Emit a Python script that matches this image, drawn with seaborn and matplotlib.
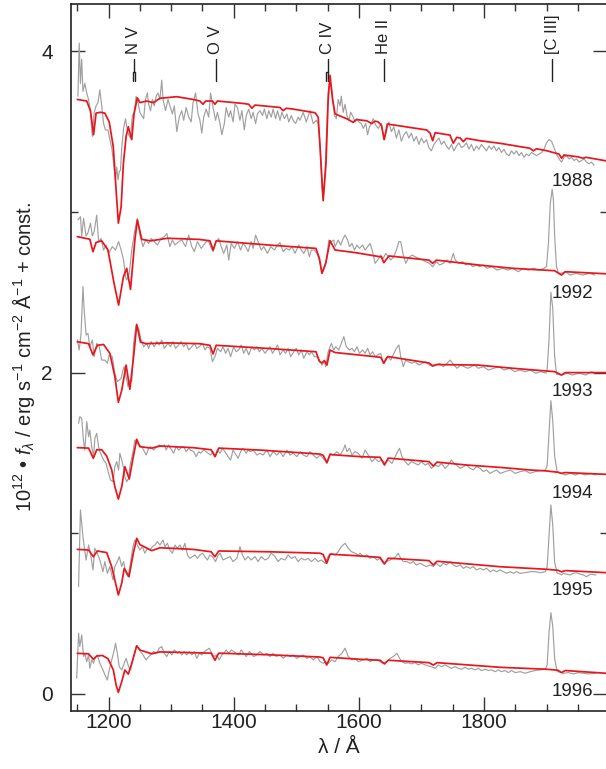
import matplotlib
matplotlib.use("Agg")
import matplotlib.pyplot as plt
import seaborn as sns
import pandas as pd
from matplotlib.ticker import MultipleLocator

sns.set_theme(style="ticks")
plt.rcParams['font.family'] = ['Liberation Sans', 'DejaVu Sans']
plt.rcParams['mathtext.fontset'] = 'custom'
plt.rcParams['mathtext.rm'] = 'Liberation Sans'
plt.rcParams['mathtext.it'] = 'Liberation Sans:italic'

years = ['1988', '1992', '1993', '1994', '1995', '1996']
year_label_y = [3.19, 2.49, 1.88, 1.25, 0.643, 0.014]

ions = ['N V', 'O V', 'C IV', 'He II', '[C III]']
ion_waves = [1240, 1371, 1550, 1640, 1909]
doublets = {'N V': (1238.8, 1242.8), 'C IV': (1548.2, 1550.8)}

# ---- observed spectra (grey) ----
obs_w_1988 = [1151,1153,1155,1157,1159,1162,1165,1168,1171,1174,1177,1180,1183,1186,1189,1192,1195,1199,1202,1205,1208,1211,1213,1215,1217,1219,1221,1224,1227,1229,1232,1235,1238,1241,1244,1247,1250,1253,1256,1259,1262,1264,1267,1270,1273,1276,1279,1282,1285,1287,1291,1295,1298,1302,1305,1309,1313,1317,1320,1324,1328,1332,1335,1339,1343,1346,1349,1352,1356,1360,1363,1367,1371,1374,1378,1381,1385,1388,1392,1395,1399,1402,1406,1410,1413,1417,1420,1424,1428,1431,1435,1438,1442,1446,1449,1453,1456,1460,1463,1467,1470,1474,1477,1481,1485,1488,1492,1495,1499,1503,1506,1511,1516,1522,1527,1532,1535,1538,1541,1543,1546,1549,1551,1553,1556,1559,1561,1564,1567,1570,1572,1575,1578,1581,1584,1587,1591,1594,1597,1600,1604,1607,1611,1614,1617,1620,1623,1627,1631,1636,1640,1644,1648,1652,1656,1660,1664,1668,1672,1676,1680,1684,1688,1692,1696,1700,1704,1708,1712,1716,1720,1724,1728,1732,1736,1740,1744,1748,1752,1756,1760,1764,1768,1772,1776,1780,1784,1788,1792,1796,1800,1804,1808,1812,1816,1820,1824,1828,1832,1836,1840,1844,1848,1852,1856,1860,1864,1868,1872,1876,1880,1884,1888,1892,1896,1900,1904,1908,1912,1916,1920,1924,1928,1932,1936,1940,1944,1948,1952,1956,1960,1964,1968,1972,1976]
obs_f_1988 = [3.72,4.05,3.80,3.95,3.75,3.80,3.74,3.70,3.62,3.47,3.62,3.66,3.68,3.76,3.66,3.55,3.51,3.51,3.45,3.40,3.30,3.20,3.28,3.20,3.25,3.26,3.40,3.52,3.58,3.53,3.48,3.46,3.60,3.62,3.72,3.68,3.62,3.60,3.58,3.70,3.74,3.67,3.63,3.70,3.66,3.72,3.74,3.70,3.82,3.70,3.63,3.70,3.66,3.61,3.66,3.50,3.59,3.63,3.57,3.65,3.59,3.56,3.68,3.74,3.61,3.57,3.49,3.59,3.64,3.59,3.74,3.65,3.57,3.62,3.55,3.48,3.55,3.65,3.59,3.63,3.56,3.67,3.65,3.57,3.63,3.51,3.60,3.64,3.58,3.62,3.55,3.61,3.63,3.60,3.64,3.58,3.63,3.59,3.64,3.58,3.63,3.57,3.62,3.58,3.61,3.56,3.60,3.57,3.55,3.59,3.57,3.62,3.56,3.63,3.55,3.57,3.55,3.42,3.15,3.08,3.25,3.55,3.75,3.80,3.78,3.68,3.60,3.58,3.70,3.66,3.72,3.62,3.67,3.60,3.57,3.62,3.59,3.56,3.58,3.56,3.55,3.52,3.55,3.48,3.53,3.55,3.58,3.54,3.52,3.55,3.45,3.50,3.56,3.50,3.53,3.46,3.51,3.44,3.48,3.50,3.46,3.49,3.44,3.47,3.42,3.46,3.43,3.45,3.40,3.38,3.42,3.44,3.46,3.42,3.44,3.41,3.39,3.42,3.38,3.41,3.43,3.40,3.41,3.43,3.39,3.42,3.38,3.41,3.39,3.42,3.40,3.38,3.41,3.39,3.41,3.38,3.40,3.37,3.39,3.36,3.35,3.38,3.36,3.38,3.35,3.37,3.34,3.36,3.35,3.37,3.36,3.35,3.36,3.37,3.39,3.43,3.45,3.44,3.40,3.36,3.33,3.31,3.34,3.35,3.33,3.34,3.32,3.33,3.31,3.32,3.33,3.31,3.30,3.31,3.29]

obs_w_1992 = [1151,1155,1157,1160,1164,1167,1171,1174,1177,1181,1184,1188,1192,1196,1200,1206,1211,1216,1220,1224,1227,1229,1233,1237,1242,1246,1250,1255,1259,1264,1268,1273,1278,1284,1289,1293,1298,1302,1306,1312,1317,1323,1328,1333,1337,1342,1348,1354,1359,1363,1367,1372,1376,1380,1384,1389,1392,1396,1401,1406,1411,1415,1419,1423,1428,1431,1435,1440,1444,1448,1454,1459,1465,1470,1474,1479,1484,1489,1493,1498,1504,1508,1512,1517,1521,1524,1529,1533,1537,1541,1545,1548,1552,1556,1560,1562,1567,1571,1575,1578,1582,1585,1589,1593,1597,1601,1606,1610,1614,1618,1622,1626,1630,1635,1639,1643,1647,1651,1656,1660,1664,1667,1671,1675,1679,1685,1690,1696,1702,1707,1713,1718,1724,1729,1735,1741,1746,1751,1754,1760,1766,1771,1777,1782,1788,1793,1799,1805,1813,1821,1830,1838,1846,1855,1863,1871,1880,1888,1896,1900,1903,1906,1909,1911,1913,1916,1919,1924,1930,1938,1947,1958,1969,1977]
obs_f_1992 = [2.95,2.97,2.85,2.96,2.85,2.87,2.93,2.85,2.88,2.98,2.815,2.835,2.763,2.794,2.742,2.784,2.763,2.815,2.763,2.70,2.597,2.576,2.618,2.763,2.887,2.96,2.856,2.784,2.825,2.804,2.835,2.815,2.794,2.835,2.846,2.866,2.784,2.825,2.794,2.815,2.825,2.784,2.856,2.784,2.753,2.815,2.773,2.804,2.825,2.784,2.753,2.815,2.835,2.784,2.742,2.794,2.70,2.804,2.773,2.815,2.763,2.804,2.784,2.753,2.815,2.773,2.856,2.804,2.763,2.784,2.742,2.784,2.763,2.794,2.809,2.753,2.773,2.763,2.784,2.742,2.794,2.763,2.742,2.784,2.721,2.763,2.763,2.742,2.701,2.618,2.649,2.69,2.825,2.815,2.825,2.784,2.825,2.794,2.835,2.856,2.825,2.784,2.804,2.763,2.794,2.773,2.794,2.763,2.784,2.804,2.753,2.68,2.701,2.732,2.711,2.742,2.721,2.701,2.721,2.763,2.815,2.815,2.732,2.68,2.711,2.732,2.721,2.711,2.701,2.69,2.68,2.659,2.69,2.67,2.68,2.701,2.68,2.742,2.701,2.68,2.69,2.67,2.68,2.659,2.67,2.659,2.67,2.649,2.659,2.638,2.649,2.638,2.649,2.628,2.649,2.638,2.649,2.638,2.649,2.66,2.80,3.05,3.14,3.08,2.85,2.66,2.62,2.618,2.628,2.607,2.618,2.607,2.618,2.607]

obs_w_1993 = [1150,1153,1156,1159,1161,1164,1167,1170,1174,1177,1181,1185,1189,1194,1198,1201,1206,1210,1214,1217,1220,1223,1225,1228,1231,1234,1237,1240,1244,1248,1252,1256,1261,1264,1268,1273,1277,1281,1285,1289,1295,1299,1303,1307,1312,1316,1320,1324,1328,1333,1337,1341,1345,1350,1354,1357,1362,1366,1370,1374,1379,1383,1387,1391,1395,1400,1404,1408,1412,1416,1420,1424,1429,1433,1437,1441,1445,1450,1454,1458,1462,1467,1470,1474,1479,1483,1487,1491,1496,1500,1504,1508,1512,1517,1521,1524,1529,1533,1537,1541,1545,1547,1551,1556,1560,1563,1568,1572,1576,1580,1585,1589,1593,1597,1601,1606,1610,1614,1618,1622,1626,1630,1635,1639,1643,1647,1651,1656,1660,1664,1667,1671,1675,1679,1685,1690,1696,1702,1707,1713,1718,1724,1729,1735,1741,1746,1752,1757,1763,1768,1774,1780,1785,1791,1799,1807,1816,1824,1832,1841,1849,1857,1866,1874,1883,1891,1899,1901,1904,1907,1910,1913,1916,1924,1933,1941,1952,1963,1972,1977]
obs_f_1993 = [2.203,2.141,2.244,2.535,2.39,2.234,2.244,2.161,2.203,2.099,2.182,2.161,2.078,2.078,2.058,2.11,2.099,1.996,1.944,1.954,1.964,2.016,2.037,1.975,1.913,1.954,1.944,2.182,2.296,2.275,2.203,2.161,2.182,2.151,2.193,2.161,2.193,2.172,2.203,2.151,2.182,2.161,2.193,2.151,2.172,2.193,2.161,2.182,2.141,2.161,2.182,2.151,2.161,2.182,2.141,2.161,2.151,2.068,2.099,2.151,2.13,2.161,2.12,2.151,2.099,2.161,2.13,2.141,2.172,2.12,2.151,2.11,2.161,2.141,2.161,2.13,2.151,2.12,2.141,2.161,2.12,2.151,2.172,2.11,2.141,2.12,2.151,2.099,2.13,2.151,2.11,2.141,2.089,2.13,2.11,2.13,2.099,2.099,2.078,2.047,2.068,2.037,2.13,2.182,2.141,2.161,2.141,2.182,2.224,2.161,2.141,2.151,2.13,2.161,2.12,2.141,2.12,2.151,2.11,2.13,2.099,2.11,2.12,2.058,2.089,2.099,2.078,2.12,2.151,2.172,2.099,2.037,2.078,2.068,2.058,2.068,2.047,2.058,2.068,2.047,2.037,2.047,2.058,2.037,2.058,2.078,2.047,2.027,2.047,2.037,2.027,2.037,2.047,2.027,2.037,2.016,2.027,2.037,2.016,2.027,2.006,2.016,2.006,2.016,1.996,2.006,1.996,2.02,2.2,2.50,2.40,2.1,1.99,1.985,1.996,1.985,1.996,1.985,2.006,1.996]

obs_w_1994 = [1152,1154,1157,1160,1162,1165,1168,1170,1173,1176,1178,1181,1184,1186,1192,1196,1200,1203,1207,1210,1213,1216,1218,1221,1224,1226,1229,1232,1234,1239,1242,1245,1249,1253,1256,1260,1264,1267,1272,1277,1281,1285,1289,1292,1296,1299,1304,1308,1312,1315,1320,1324,1328,1331,1336,1340,1344,1347,1352,1356,1359,1363,1367,1371,1374,1378,1382,1386,1391,1395,1399,1404,1407,1411,1415,1420,1423,1427,1431,1437,1442,1447,1453,1458,1463,1469,1474,1479,1485,1490,1495,1501,1506,1511,1517,1522,1527,1533,1538,1543,1549,1554,1559,1565,1570,1575,1578,1581,1585,1589,1594,1599,1605,1610,1615,1621,1626,1631,1637,1642,1647,1653,1658,1662,1665,1669,1674,1679,1684,1690,1695,1700,1706,1711,1716,1722,1727,1732,1738,1743,1748,1752,1756,1762,1767,1772,1778,1783,1788,1794,1799,1804,1810,1815,1820,1826,1834,1842,1850,1858,1866,1874,1882,1890,1898,1901,1904,1907,1910,1913,1917,1924,1930,1938,1946,1954,1962,1970,1979]
obs_f_1994 = [1.684,1.726,1.715,1.570,1.518,1.695,1.601,1.643,1.539,1.477,1.591,1.622,1.539,1.508,1.456,1.435,1.373,1.332,1.321,1.415,1.446,1.394,1.498,1.456,1.404,1.353,1.321,1.342,1.415,1.508,1.581,1.560,1.550,1.539,1.518,1.487,1.529,1.539,1.518,1.539,1.550,1.539,1.550,1.518,1.550,1.529,1.498,1.539,1.518,1.529,1.539,1.508,1.529,1.518,1.508,1.477,1.508,1.498,1.518,1.508,1.498,1.487,1.508,1.477,1.518,1.498,1.529,1.508,1.477,1.456,1.518,1.487,1.467,1.508,1.529,1.498,1.518,1.508,1.518,1.487,1.498,1.487,1.518,1.477,1.508,1.487,1.508,1.477,1.518,1.487,1.498,1.477,1.508,1.487,1.477,1.508,1.487,1.467,1.487,1.467,1.435,1.498,1.487,1.508,1.487,1.518,1.550,1.508,1.529,1.487,1.508,1.498,1.467,1.518,1.487,1.446,1.467,1.446,1.456,1.435,1.456,1.435,1.477,1.508,1.529,1.477,1.446,1.425,1.446,1.435,1.425,1.446,1.425,1.435,1.404,1.425,1.415,1.435,1.404,1.425,1.456,1.435,1.425,1.404,1.415,1.425,1.404,1.394,1.415,1.404,1.384,1.394,1.373,1.384,1.394,1.373,1.384,1.394,1.373,1.384,1.39,1.373,1.384,1.39,1.394,1.42,1.62,1.825,1.70,1.48,1.384,1.373,1.363,1.373,1.363,1.373,1.363,1.373,1.363]

obs_w_1995 = [1152,1155,1159,1161,1164,1168,1171,1175,1178,1182,1186,1191,1194,1198,1202,1207,1210,1214,1217,1221,1224,1227,1231,1234,1239,1242,1246,1250,1254,1258,1262,1266,1270,1274,1278,1282,1287,1290,1294,1298,1302,1306,1310,1314,1318,1322,1326,1330,1334,1338,1342,1346,1350,1354,1358,1362,1366,1371,1374,1378,1383,1388,1394,1399,1405,1410,1414,1418,1423,1428,1434,1439,1444,1450,1455,1460,1466,1471,1476,1482,1487,1492,1498,1503,1508,1514,1519,1524,1530,1535,1540,1546,1551,1556,1562,1567,1572,1578,1583,1588,1594,1599,1602,1607,1613,1618,1623,1629,1634,1639,1644,1650,1655,1659,1663,1667,1671,1677,1682,1687,1692,1698,1703,1708,1714,1719,1724,1730,1735,1740,1746,1751,1756,1762,1767,1772,1778,1783,1788,1794,1799,1804,1810,1815,1820,1826,1831,1836,1842,1847,1852,1858,1866,1874,1882,1890,1898,1901,1904,1907,1910,1913,1917,1919,1924,1927,1932,1938,1943,1948,1954,1959,1964,1970,1979]
obs_f_1995 = [0.668,1.145,0.979,0.917,0.834,0.927,0.876,0.772,0.907,0.876,0.834,0.761,0.824,0.751,0.793,0.710,0.793,0.824,0.855,0.793,0.824,0.761,0.730,0.793,0.917,0.958,0.927,0.896,0.917,0.876,0.907,0.896,0.917,0.927,0.948,0.927,0.958,0.917,0.938,0.896,0.876,0.927,0.907,0.927,0.896,0.938,0.865,0.844,0.855,0.865,0.844,0.865,0.876,0.855,0.834,0.865,0.855,0.824,0.855,0.876,0.834,0.844,0.855,0.824,0.844,0.917,0.865,0.834,0.855,0.834,0.855,0.824,0.855,0.834,0.844,0.876,0.855,0.824,0.844,0.834,0.865,0.844,0.855,0.824,0.844,0.834,0.844,0.824,0.844,0.824,0.834,0.813,0.855,0.876,0.865,0.886,0.917,0.938,0.907,0.886,0.876,0.865,0.876,0.855,0.865,0.844,0.855,0.834,0.844,0.813,0.824,0.834,0.844,0.855,0.876,0.844,0.824,0.824,0.813,0.824,0.803,0.813,0.803,0.793,0.803,0.793,0.813,0.793,0.813,0.803,0.824,0.803,0.793,0.803,0.782,0.793,0.782,0.793,0.772,0.782,0.772,0.782,0.761,0.772,0.761,0.772,0.761,0.751,0.761,0.751,0.761,0.751,0.755,0.761,0.761,0.755,0.761,0.79,0.98,1.176,1.05,0.82,0.751,0.751,0.741,0.751,0.745,0.741,0.751,0.755,0.745,0.741,0.730,0.745,0.741]

obs_w_1996 = [1149,1152,1154,1157,1160,1162,1165,1168,1170,1173,1176,1178,1182,1186,1191,1194,1198,1201,1205,1209,1211,1214,1217,1221,1225,1228,1232,1235,1240,1244,1248,1251,1255,1260,1264,1267,1272,1277,1281,1285,1289,1293,1297,1301,1305,1310,1313,1317,1321,1325,1329,1333,1337,1341,1345,1349,1353,1357,1361,1365,1369,1373,1377,1381,1384,1388,1392,1396,1400,1404,1408,1412,1416,1420,1425,1428,1432,1437,1442,1448,1453,1458,1463,1468,1474,1479,1485,1490,1495,1501,1506,1511,1517,1522,1527,1533,1538,1543,1547,1551,1557,1562,1567,1573,1578,1583,1589,1594,1599,1607,1613,1618,1623,1629,1634,1639,1645,1650,1655,1661,1665,1669,1674,1679,1684,1690,1695,1700,1706,1711,1716,1722,1727,1732,1738,1743,1748,1754,1759,1764,1770,1775,1780,1786,1791,1796,1802,1807,1812,1818,1823,1828,1834,1839,1844,1850,1858,1866,1874,1882,1890,1898,1901,1904,1907,1910,1913,1917,1919,1927,1935,1943,1951,1959,1967,1979]
obs_f_1996 = [0.098,0.378,0.295,0.367,0.233,0.253,0.201,0.243,0.160,0.212,0.191,0.222,0.243,0.191,0.150,0.119,0.087,0.150,0.212,0.274,0.316,0.253,0.170,0.150,0.191,0.222,0.170,0.150,0.233,0.295,0.285,0.264,0.243,0.212,0.233,0.243,0.264,0.253,0.285,0.295,0.253,0.233,0.264,0.243,0.274,0.253,0.264,0.243,0.264,0.243,0.264,0.243,0.264,0.222,0.253,0.243,0.264,0.274,0.285,0.253,0.233,0.243,0.212,0.243,0.253,0.274,0.253,0.274,0.264,0.253,0.243,0.274,0.253,0.233,0.264,0.253,0.233,0.243,0.264,0.243,0.253,0.233,0.253,0.233,0.243,0.222,0.243,0.233,0.243,0.222,0.233,0.243,0.222,0.233,0.212,0.233,0.201,0.191,0.201,0.191,0.212,0.201,0.233,0.253,0.285,0.233,0.212,0.222,0.201,0.212,0.222,0.201,0.212,0.212,0.201,0.191,0.201,0.222,0.233,0.253,0.222,0.201,0.191,0.195,0.187,0.195,0.181,0.191,0.181,0.175,0.170,0.160,0.181,0.170,0.181,0.170,0.160,0.170,0.160,0.154,0.166,0.154,0.160,0.150,0.160,0.146,0.154,0.146,0.150,0.139,0.150,0.139,0.146,0.133,0.146,0.133,0.139,0.129,0.139,0.146,0.150,0.154,0.18,0.38,0.506,0.42,0.22,0.139,0.139,0.129,0.133,0.125,0.133,0.129,0.125,0.129]

# ---- model spectra (red) ----
mod_w_1988 = [1150,1165,1171,1176,1180,1187,1194,1201,1207.5,1212,1215.6,1220,1223.6,1228,1231.5,1237,1240.6,1246,1250,1261,1271.5,1282,1309,1335,1346,1351,1355,1366,1370,1374,1415,1424,1429,1434,1474,1479,1484,1495,1530,1535,1538,1543,1547.5,1551,1554,1558,1562,1570,1580.6,1591,1596,1612.6,1620.6,1626,1631,1636,1640.7,1645.5,1666,1708.5,1714,1718,1722,1745.7,1751,1756.5,1762,1767,1772,1793.7,1825.7,1873.6,1879,1884,1900,1920,1924,1928,1950,1958.8,1963,1995]
mod_f_1988 = [3.70,3.69,3.63,3.48,3.615,3.62,3.615,3.56,3.405,3.136,2.93,3.03,3.30,3.47,3.53,3.45,3.61,3.71,3.68,3.69,3.68,3.707,3.717,3.70,3.69,3.67,3.69,3.69,3.67,3.69,3.675,3.67,3.645,3.665,3.65,3.63,3.645,3.64,3.617,3.59,3.405,3.07,3.30,3.70,3.85,3.70,3.61,3.597,3.58,3.557,3.575,3.567,3.55,3.565,3.56,3.54,3.45,3.547,3.535,3.51,3.49,3.443,3.493,3.478,3.427,3.464,3.46,3.437,3.458,3.443,3.427,3.396,3.38,3.393,3.381,3.36,3.334,3.354,3.343,3.334,3.34,3.318]

mod_w_1992 = [1150,1170,1175,1180,1189,1199,1208.7,1216,1223.7,1229,1235,1242,1246,1253,1267,1294,1345,1362,1367,1372,1456,1531.5,1537,1541,1547,1554,1562,1595.5,1626,1636,1640,1648,1712,1718,1724,1790.5,1846,1913,1924,1930,1995]
mod_f_1992 = [2.846,2.83,2.752,2.81,2.82,2.763,2.556,2.42,2.597,2.649,2.518,2.825,2.95,2.829,2.82,2.836,2.829,2.82,2.763,2.82,2.794,2.773,2.71,2.618,2.68,2.82,2.763,2.746,2.726,2.72,2.684,2.726,2.70,2.68,2.70,2.67,2.649,2.634,2.607,2.628,2.615]

mod_w_1993 = [1150,1168,1175,1182,1192,1202,1210,1215.6,1221,1228,1234,1240,1245,1251,1260,1294,1345,1362,1367,1372,1456,1531.5,1537,1541,1545,1549,1554,1562,1624,1635,1640,1646,1712,1718,1724,1790.5,1846,1913,1924,1930,1995]
mod_f_1993 = [2.192,2.18,2.11,2.17,2.175,2.12,1.975,1.815,1.89,2.047,1.896,2.10,2.30,2.19,2.18,2.185,2.18,2.17,2.116,2.17,2.15,2.13,2.07,2.06,2.075,2.047,2.14,2.125,2.10,2.095,2.058,2.10,2.06,2.043,2.05,2.047,2.027,2.006,1.985,2.0,2.0]

mod_w_1994 = [1150,1168,1175.6,1181,1189,1197,1205,1210,1215.6,1221,1226,1233,1239.5,1245,1250,1269,1282,1335,1364,1370,1376,1442,1538,1543,1549,1554,1602,1634,1641,1647,1712,1719,1725,1772,1826,1874,1900,1918,1924,1930,1995]
mod_f_1994 = [1.533,1.53,1.467,1.52,1.52,1.48,1.394,1.29,1.213,1.29,1.415,1.338,1.477,1.585,1.539,1.53,1.543,1.533,1.52,1.477,1.53,1.518,1.493,1.485,1.44,1.49,1.477,1.473,1.425,1.468,1.446,1.419,1.443,1.425,1.41,1.394,1.388,1.38,1.373,1.378,1.367]

mod_w_1995 = [1150,1168,1175.6,1182,1197,1205,1210,1215.6,1221,1225,1232.6,1239.5,1245,1250,1269,1282,1335,1364,1370,1376,1456,1538,1543,1548.6,1554,1602,1634,1641,1647,1712,1719,1725,1826,1900,1918,1924,1930,1995]
mod_f_1995 = [0.90,0.896,0.854,0.89,0.88,0.792,0.709,0.616,0.69,0.782,0.73,0.876,0.969,0.93,0.892,0.91,0.90,0.885,0.854,0.89,0.885,0.876,0.868,0.813,0.87,0.859,0.85,0.809,0.845,0.83,0.803,0.826,0.792,0.776,0.77,0.76,0.768,0.755]

mod_w_1996 = [1150,1168,1175.6,1181,1190,1199,1207.6,1212,1215.6,1221,1226,1231.5,1237,1245,1250,1269,1282,1335,1364,1370,1376,1456,1538,1543,1548.6,1554,1602,1634,1641,1647,1712,1719,1725,1826,1900,1918,1924,1930,1995]
mod_f_1996 = [0.253,0.25,0.216,0.236,0.24,0.22,0.149,0.056,0.01,0.077,0.149,0.124,0.19,0.30,0.274,0.25,0.262,0.257,0.254,0.21,0.254,0.244,0.23,0.225,0.18,0.228,0.216,0.21,0.187,0.21,0.195,0.18,0.195,0.166,0.154,0.148,0.133,0.146,0.129]

obs = {'1988': (obs_w_1988, obs_f_1988), '1992': (obs_w_1992, obs_f_1992),
       '1993': (obs_w_1993, obs_f_1993), '1994': (obs_w_1994, obs_f_1994),
       '1995': (obs_w_1995, obs_f_1995), '1996': (obs_w_1996, obs_f_1996)}
mod = {'1988': (mod_w_1988, mod_f_1988), '1992': (mod_w_1992, mod_f_1992),
       '1993': (mod_w_1993, mod_f_1993), '1994': (mod_w_1994, mod_f_1994),
       '1995': (mod_w_1995, mod_f_1995), '1996': (mod_w_1996, mod_f_1996)}

def frame(d):
    rows = []
    for y in years:
        w, f = d[y]
        rows.append(pd.DataFrame({'wave': w, 'flux': f, 'epoch': y}))
    return pd.concat(rows, ignore_index=True)

df_obs = frame(obs)
df_mod = frame(mod)

W, H = 606, 769
fig = plt.figure(figsize=(W / 100, H / 100), dpi=100)
ax_l, ax_r, ax_t, ax_b = 71, 607, 3.5, 710.7
ax = fig.add_axes([ax_l / W, 1 - ax_b / H, (ax_r - ax_l) / W, (ax_b - ax_t) / H])

sns.lineplot(data=df_obs, x='wave', y='flux', units='epoch', estimator=None, sort=False,
             color='#a0a0a0', lw=0.85, ax=ax, zorder=2)
sns.lineplot(data=df_mod, x='wave', y='flux', units='epoch', estimator=None, sort=False,
             color='#e8161d', lw=1.25, ax=ax, zorder=3)

ax.set_xlim(1139.9, 1996.7)
ax.set_ylim(-0.104, 4.297)

ax.xaxis.set_major_locator(MultipleLocator(200))
ax.xaxis.set_minor_locator(MultipleLocator(50))
ax.yaxis.set_major_locator(MultipleLocator(2))
ax.yaxis.set_minor_locator(MultipleLocator(1))
ax.tick_params(which='both', direction='in', top=True, right=True, color='#333333', width=1.0)
ax.tick_params(which='major', length=10)
ax.tick_params(which='minor', length=5)
ax.tick_params(axis='x', which='major', labelsize=15, pad=1.5, labelcolor='#222222')
ax.tick_params(axis='y', which='major', labelsize=15, pad=13, labelcolor='#222222')
for s in ax.spines.values():
    s.set_linewidth(1.2)
    s.set_color('#222222')

ax.set_xlabel('λ / Å', fontsize=15, color='#222222')
ax.xaxis.set_label_coords(0.5, -0.038)
ax.set_ylabel(r'$10^{12}$ • $f_{\lambda}$ / erg s$^{-1}$ cm$^{-2}$ Å$^{-1}$ + const.',
              fontsize=14.5, color='#222222')
ax.yaxis.set_label_coords(-0.063, 0.5)

# ion identifications
for name, wl in zip(ions, ion_waves):
    ax.text(wl, 3.985, name, rotation=90, ha='center', va='bottom', fontsize=12, color='#222222')
    if name in doublets:
        a, b = doublets[name]
        ax.plot([wl, wl], [3.872, 3.95], color='#222222', lw=1)
        ax.plot([a, a, b, b], [3.816, 3.872, 3.872, 3.816], color='#222222', lw=1)
    else:
        ax.plot([wl, wl], [3.816, 3.95], color='#222222', lw=1)

for yr, yy in zip(years, year_label_y):
    ax.text(1975, yy, yr, ha='right', va='center', fontsize=13.5, color='#222222')

fig.savefig('out.png', dpi=100)
